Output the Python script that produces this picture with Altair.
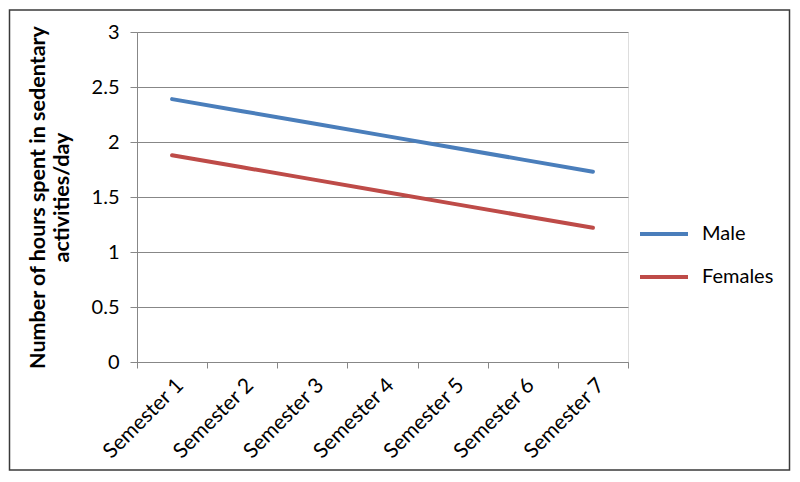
import altair as alt
import pandas as pd

semesters = ["Semester 1", "Semester 2", "Semester 3", "Semester 4",
             "Semester 5", "Semester 6", "Semester 7"]
male = [2.39, 2.28, 2.17, 2.06, 1.95, 1.84, 1.73]
females = [1.88, 1.77, 1.66, 1.55, 1.44, 1.33, 1.22]
series = ["Male", "Females"]
y_ticks = [0, 0.5, 1, 1.5, 2, 2.5, 3]

rows = []
for s, vals in zip(series, [male, females]):
    for sem, v in zip(semesters, vals):
        rows.append({"Semester": sem, "Series": s, "Value": v})
df = pd.DataFrame(rows)

FONT = "Lato"
GRAY = "#878787"

lines = alt.Chart(df).mark_line(strokeWidth=4, strokeCap="round").encode(
    x=alt.X("Semester:N", sort=semesters, bandPosition=0.5,
            scale=alt.Scale(type="band", paddingInner=0, paddingOuter=0),
            axis=alt.Axis(title=None, labelAngle=-45, labelFontSize=21,
                          labelFont=FONT, labelColor="black", tickBand="extent",
                          domainColor=GRAY, tickColor=GRAY, tickSize=6,
                          labelPadding=6, grid=False)),
    y=alt.Y("Value:Q", scale=alt.Scale(domain=[0, 3], nice=False),
            axis=alt.Axis(values=y_ticks, format="~g",
                          title=["Number of  hours spent in sedentary", "activities/day"],
                          titleFont=FONT, titleFontSize=21.5, titleFontWeight="bold",
                          titleColor="black", titlePadding=18,
                          labelFont=FONT, labelFontSize=20, labelColor="black",
                          labelPadding=11, tickSize=7, tickColor=GRAY,
                          domainColor=GRAY, gridColor=GRAY, gridWidth=1)),
    color=alt.Color("Series:N", sort=series,
                    scale=alt.Scale(domain=series, range=["#4A7EBB", "#BE4B48"]),
                    legend=alt.Legend(title=None, orient="none", legendX=501, legendY=176,
                                      symbolType="stroke", symbolSize=2304,
                                      symbolStrokeWidth=4, labelFontSize=20,
                                      labelFont=FONT, labelColor="black",
                                      rowPadding=7, labelOffset=12, padding=0)),
)

border = alt.Chart(alt.Data(values=[{}])).mark_rect(
    fillOpacity=0, stroke="#3a3a3a", strokeWidth=1.5
).encode(
    x=alt.value(-127.5), x2=alt.value(652.5),
    y=alt.value(-22), y2=alt.value(438)
)

chart = alt.layer(border, lines).properties(
    width=491, height=330,
    autosize=alt.AutoSizeParams(type="none"),
    padding={"left": 129, "top": 24, "right": 164, "bottom": 112},
).configure_view(stroke=None).configure(background="white")

chart.save("out.html", embed_options={"renderer": "svg", "actions": False})
